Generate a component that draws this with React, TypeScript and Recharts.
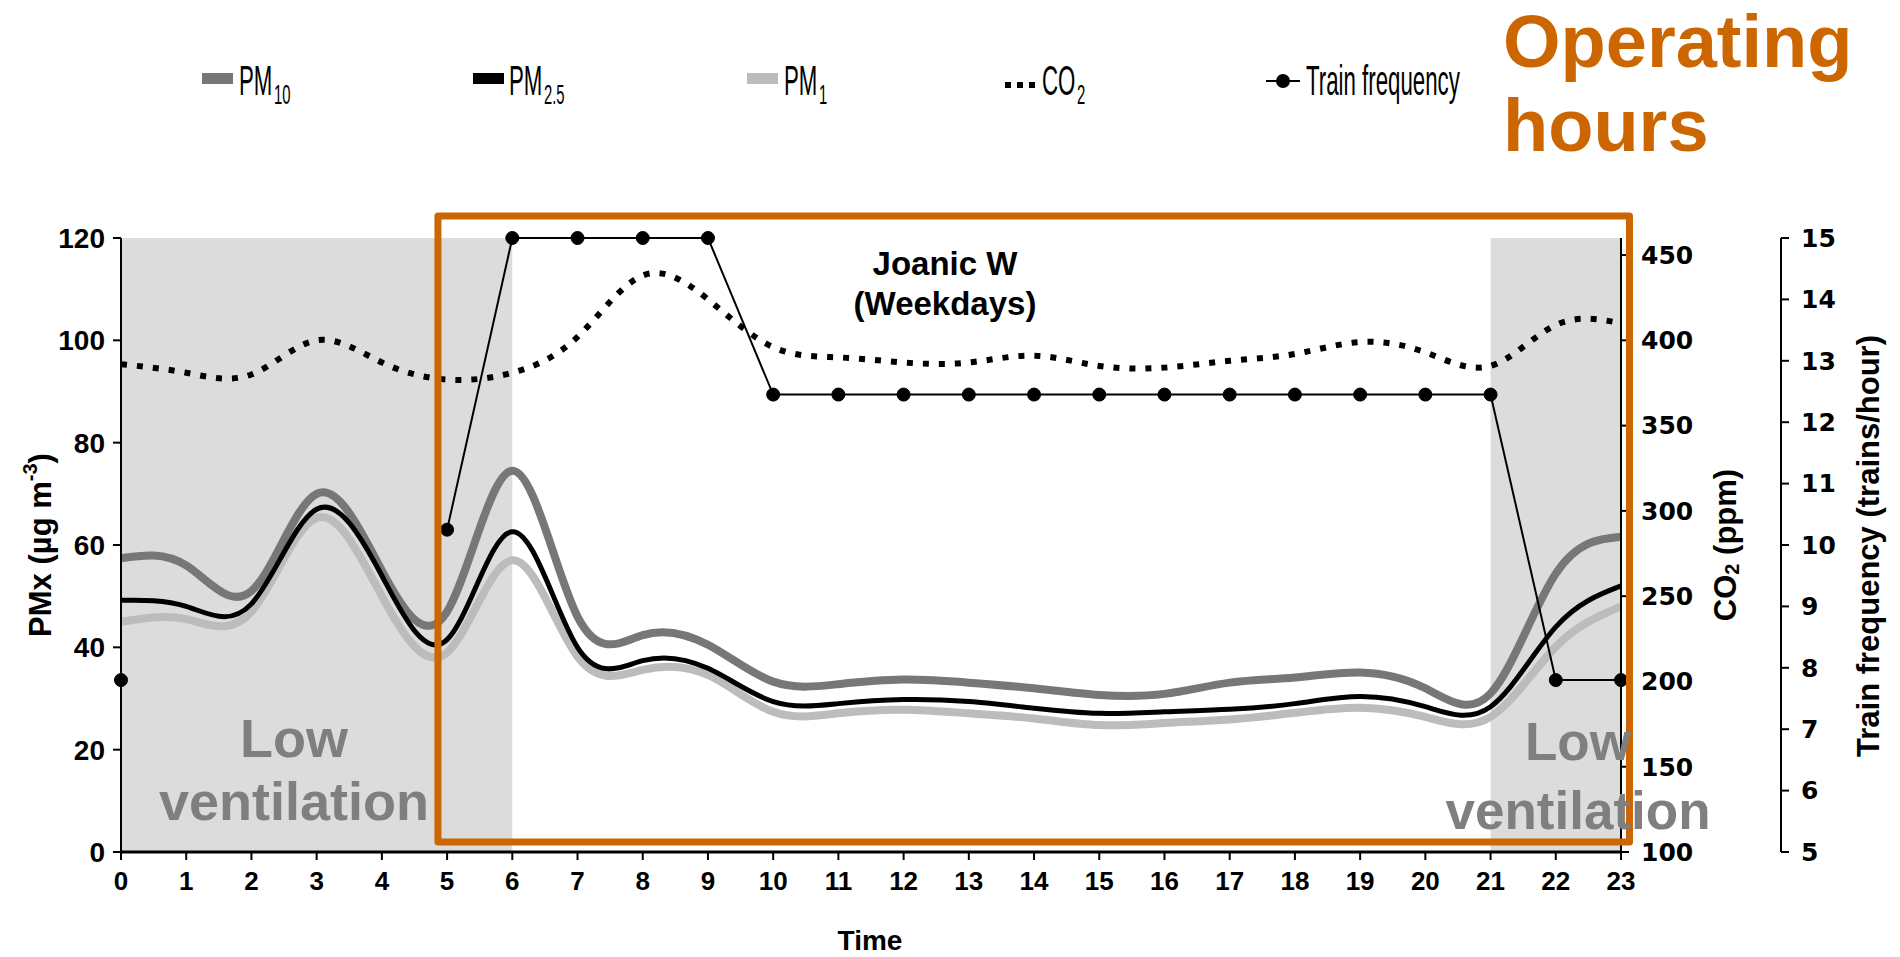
import { LineChart, Line, XAxis, YAxis, ReferenceArea, Legend } from 'recharts';

// hourly profile, Joanic W platform (weekdays)
const hours = [0, 1, 2, 3, 4, 5, 6, 7, 8, 9, 10, 11, 12, 13, 14, 15, 16, 17, 18, 19, 20, 21, 22, 23];
const pm10 = [57.4, 56, 51, 70, 55, 47, 74.5, 46, 42.4, 40.5, 33.3, 32.8, 33.7, 33.1, 32, 30.7, 30.9, 33.1, 34.1, 35.1, 32, 31, 54.4, 61.6];
const pm25 = [49.2, 48, 48.5, 67, 54, 41.5, 62.6, 40, 37.4, 35.9, 29.4, 29, 29.8, 29.4, 28.1, 27.1, 27.4, 27.9, 29, 30.4, 28.4, 28.4, 44, 52];
const pm1 = [45, 45.5, 47, 65.3, 50, 39, 57, 38.2, 35.6, 34.6, 27.4, 27.1, 27.8, 27.1, 26.1, 24.8, 25.2, 25.9, 27.2, 28.2, 26.4, 26.4, 40.1, 48];
const co2 = [386, 381, 380, 400, 387, 377, 381, 402, 438, 424, 396, 390, 387, 387, 391, 385, 384, 388, 392, 399, 393, 385, 409, 410];
const trains = [7.8, null, null, null, null, 10.25, 15, 15, 15, 15, 12.45, 12.45, 12.45, 12.45, 12.45, 12.45, 12.45, 12.45, 12.45, 12.45, 12.45, 12.45, 7.8, 7.8];

const pmTicks = [0, 20, 40, 60, 80, 100, 120];
const co2Ticks = [100, 150, 200, 250, 300, 350, 400, 450];
const trainTicks = [5, 6, 7, 8, 9, 10, 11, 12, 13, 14, 15];

const data = hours.map((hour, i) => ({
  hour,
  pm10: pm10[i],
  pm25: pm25[i],
  pm1: pm1[i],
  co2: co2[i],
  trains: trains[i],
}));

const ARIAL = '"Liberation Sans", Arial, sans-serif';
const DEJAVU = '"DejaVu Sans", sans-serif';
const ORANGE = '#cc6600';

// legend label in the narrow style: main text plus optional subscript, squeezed horizontally
function LegendLabel({ x, main, sub, mainWidth }: { x: number; main: string; sub?: string; mainWidth: number }) {
  return (
    <g transform={`translate(${x},95) scale(0.53,1)`} fontFamily={ARIAL} fill="#000">
      <text x={0} y={0} fontSize={42}>{main}</text>
      {sub && (
        <text x={mainWidth + 3} y={9} fontSize={28}>{sub}</text>
      )}
    </g>
  );
}

// legend slots along the top row
function ChartLegend({ payload }: any) {
  const items = (payload || []).map((p: any) => p.dataKey);
  return (
    <svg width={1900} height={130} style={{ display: 'block' }}>
      {items.includes('pm10') && (
        <g>
          <rect x={202} y={73} width={31} height={11} fill="#777" />
          <LegendLabel x={239} main="PM" sub="10" mainWidth={63} />
        </g>
      )}
      {items.includes('pm25') && (
        <g>
          <rect x={473} y={73} width={31} height={11} fill="#000" />
          <LegendLabel x={509} main="PM" sub="2.5" mainWidth={63} />
        </g>
      )}
      {items.includes('pm1') && (
        <g>
          <rect x={747} y={73} width={31} height={11} fill="#bcbcbc" />
          <LegendLabel x={784} main="PM" sub="1" mainWidth={63} />
        </g>
      )}
      {items.includes('co2') && (
        <g>
          {[1005, 1017, 1029].map((x) => (
            <rect key={x} x={x} y={82} width={6} height={6} fill="#000" />
          ))}
          <LegendLabel x={1042} main="CO" sub="2" mainWidth={63} />
        </g>
      )}
      {items.includes('trains') && (
        <g>
          <line x1={1266} x2={1300} y1={81} y2={81} stroke="#000" strokeWidth={2} />
          <circle cx={1283} cy={81} r={7} fill="#000" />
          <LegendLabel x={1306} main="Train frequency" mainWidth={292} />
        </g>
      )}
    </svg>
  );
}

export default function App() {
  return (
    <div style={{ position: 'absolute', left: 0, top: 0, width: 1900, height: 957, background: '#fff' }}>
      <LineChart width={1900} height={957} data={data} margin={{ top: 238, right: 0, bottom: 0, left: 0 }}>
        {/* low ventilation periods */}
        <ReferenceArea yAxisId="pm" x1={0} x2={6} y1={0} y2={120} fill="#dcdcdc" fillOpacity={1} stroke="none" />
        <ReferenceArea yAxisId="pm" x1={21} x2={23} y1={0} y2={120} fill="#dcdcdc" fillOpacity={1} stroke="none" />

        <XAxis
          dataKey="hour"
          type="number"
          domain={[0, 23]}
          ticks={hours}
          interval={0}
          height={105}
          tickSize={8}
          tickMargin={12}
          axisLine={{ stroke: '#000', strokeWidth: 3 }}
          tickLine={{ stroke: '#000', strokeWidth: 2 }}
          tick={{ fontSize: 26, fontWeight: 700, fill: '#000', fontFamily: ARIAL }}
        />
        <YAxis
          yAxisId="pm"
          domain={[0, 120]}
          ticks={pmTicks}
          width={121}
          tickSize={8}
          tickMargin={8}
          axisLine={{ stroke: '#000', strokeWidth: 2 }}
          tickLine={{ stroke: '#000', strokeWidth: 2 }}
          tick={{ fontSize: 28, fontWeight: 700, fill: '#000', fontFamily: ARIAL }}
        />
        <YAxis
          yAxisId="co2"
          orientation="right"
          domain={[100, 460]}
          ticks={co2Ticks}
          width={160}
          tickSize={8}
          tickMargin={12}
          axisLine={{ stroke: '#000', strokeWidth: 2 }}
          tickLine={{ stroke: '#000', strokeWidth: 2 }}
          tick={{ fontSize: 25, fontWeight: 700, fill: '#000', fontFamily: DEJAVU }}
        />
        <YAxis
          yAxisId="train"
          orientation="right"
          domain={[5, 15]}
          ticks={trainTicks}
          width={119}
          tickSize={8}
          tickMargin={12}
          axisLine={{ stroke: '#000', strokeWidth: 2 }}
          tickLine={{ stroke: '#000', strokeWidth: 2 }}
          tick={{ fontSize: 25, fontWeight: 700, fill: '#000', fontFamily: DEJAVU }}
        />

        <Line yAxisId="pm" dataKey="pm1" name="PM1" type="natural" stroke="#bcbcbc" strokeWidth={8} dot={false} isAnimationActive={false} />
        <Line yAxisId="pm" dataKey="pm10" name="PM10" type="natural" stroke="#777777" strokeWidth={8} dot={false} isAnimationActive={false} />
        <Line yAxisId="pm" dataKey="pm25" name="PM2.5" type="natural" stroke="#000" strokeWidth={5} dot={false} isAnimationActive={false} />
        <Line
          yAxisId="co2"
          dataKey="co2"
          name="CO2"
          type="natural"
          stroke="#000"
          strokeWidth={6}
          strokeDasharray="6 10"
          dot={false}
          isAnimationActive={false}
        />
        <Line
          yAxisId="train"
          dataKey="trains"
          name="Train frequency"
          type="linear"
          stroke="#000"
          strokeWidth={2}
          dot={{ r: 6.5, fill: '#000', stroke: '#000', strokeWidth: 1 }}
          connectNulls={false}
          isAnimationActive={false}
        />

        {/* operating hours frame */}
        <ReferenceArea
          yAxisId="pm"
          x1={4.86}
          x2={23.13}
          y1={1.95}
          y2={124.3}
          ifOverflow="visible"
          fill="none"
          stroke={ORANGE}
          strokeWidth={7}
          strokeLinejoin="round"
          zIndex={1500}
        />

        <Legend
          verticalAlign="middle"
          align="center"
          layout="horizontal"
          content={<ChartLegend />}
          wrapperStyle={{ left: 0, top: 0, width: 1900, height: 130 }}
        />
      </LineChart>

      <svg width={1900} height={957} style={{ position: 'absolute', left: 0, top: 0, pointerEvents: 'none' }}>
        <g fontFamily={ARIAL} fontWeight={700} fill={ORANGE} fontSize={74}>
          <text x={1503} y={67}>Operating</text>
          <text x={1503} y={151}>hours</text>
        </g>
        <g fontFamily={ARIAL} fontWeight={700} fill="#000" fontSize={33} textAnchor="middle">
          <text x={945} y={275}>Joanic W</text>
          <text x={945} y={315}>(Weekdays)</text>
        </g>
        <g fontFamily={ARIAL} fontWeight={700} fill="#7f7f7f" textAnchor="middle">
          <text x={294} y={757} fontSize={54}>Low</text>
          <text x={294} y={820} fontSize={54}>ventilation</text>
          <text x={1578} y={760} fontSize={53}>Low</text>
          <text x={1578} y={829} fontSize={53}>ventilation</text>
        </g>
        <g fontFamily={ARIAL} fontWeight={700} fill="#000" fontSize={31}>
          <text transform="translate(40,545) rotate(-90)" textAnchor="middle" dominantBaseline="central">
            PMx (µg m<tspan dy={-10} fontSize={20}>-3</tspan><tspan dy={10}>)</tspan>
          </text>
          <text transform="translate(1725,545) rotate(-90)" textAnchor="middle" dominantBaseline="central">
            CO<tspan dy={7} fontSize={20}>2</tspan><tspan dy={-7}> (ppm)</tspan>
          </text>
          <text transform="translate(1868,546) rotate(-90)" textAnchor="middle" dominantBaseline="central">
            Train frequency (trains/hour)
          </text>
          <text x={870} y={950} textAnchor="middle" fontSize={28}>Time</text>
        </g>
      </svg>
    </div>
  );
}
